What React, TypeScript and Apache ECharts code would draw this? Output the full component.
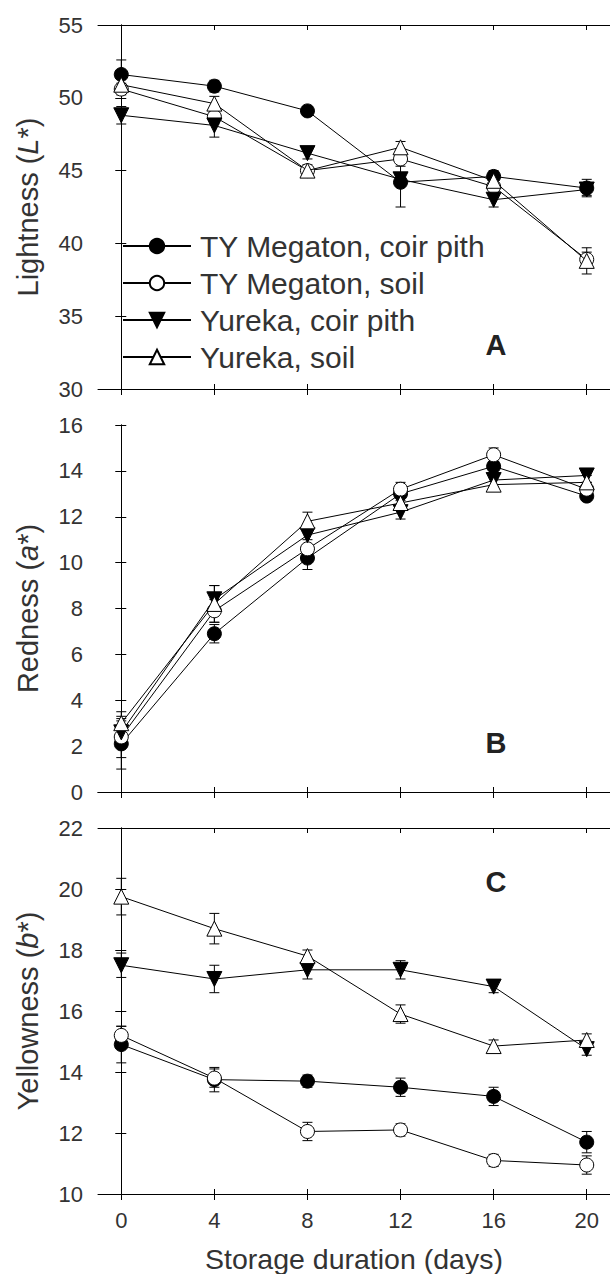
import React, { useEffect, useRef } from "react";
import * as echarts from "echarts";

const days = [0, 4, 8, 12, 16, 20];
const tickDays = [0, 4, 8, 12, 16, 20];
const seriesNames = ["TY Megaton, coir pith", "TY Megaton, soil", "Yureka, coir pith", "Yureka, soil"];

// Panel A: Lightness (L*)
const lightTYCoir = [51.6, 50.8, 49.1, 44.2, 44.6, 43.8];
const lightTYSoil = [50.6, 48.7, 45.0, 45.8, 43.9, 38.9];
const lightYuCoir = [48.8, 48.1, 46.2, 44.4, 43.0, 43.7];
const lightYuSoil = [50.9, 49.6, 45.0, 46.6, 44.3, 38.8];
const lightErrTYCoir = [1.0, 0.4, 0.3, 1.7, 0.4, 0.6];
const lightErrTYSoil = [0.4, 0.5, 0.3, 0.5, 0.4, 0.5];
const lightErrYuCoir = [0.6, 0.8, 0.4, 0.4, 0.5, 0.4];
const lightErrYuSoil = [0.4, 0.5, 0.4, 0.4, 0.4, 0.9];

// Panel B: Redness (a*)
const redTYCoir = [2.1, 6.9, 10.2, 13.0, 14.2, 12.9];
const redTYSoil = [2.4, 7.9, 10.6, 13.2, 14.7, 13.2];
const redYuCoir = [2.6, 8.4, 11.2, 12.2, 13.6, 13.8];
const redYuSoil = [3.0, 8.2, 11.8, 12.6, 13.4, 13.5];
const redErrTYCoir = [1.1, 0.4, 0.5, 0.3, 0.3, 0.2];
const redErrTYSoil = [0.9, 0.5, 0.4, 0.3, 0.3, 0.3];
const redErrYuCoir = [0.5, 0.6, 0.4, 0.3, 0.3, 0.3];
const redErrYuSoil = [0.5, 0.8, 0.4, 0.3, 0.3, 0.3];

// Panel C: Yellowness (b*)
const yelTYCoir = [14.9, 13.75, 13.7, 13.5, 13.2, 11.7];
const yelTYSoil = [15.2, 13.8, 12.05, 12.1, 11.1, 10.95];
const yelYuCoir = [17.5, 17.05, 17.35, 17.35, 16.8, 14.75];
const yelYuSoil = [19.75, 18.7, 17.8, 15.9, 14.85, 15.05];
const yelErrTYCoir = [0.6, 0.4, 0.2, 0.3, 0.3, 0.35];
const yelErrTYSoil = [0.3, 0.3, 0.3, 0.2, 0.2, 0.3];
const yelErrYuCoir = [0.4, 0.45, 0.3, 0.3, 0.2, 0.2];
const yelErrYuSoil = [0.6, 0.5, 0.2, 0.3, 0.2, 0.2];

const yTicksA = [30, 55, 5];
const yTicksB = [0, 16, 2];
const yTicksC = [10, 22, 2];

const FONT = "'Liberation Sans', Arial, sans-serif";
const TXT = "#333";

const markerStyles = [
  { symbol: "circle", size: 14, fill: "#000", rotate: 0 },
  { symbol: "circle", size: 14, fill: "#fff", rotate: 0 },
  { symbol: "triangle", size: 15, fill: "#000", rotate: 180 },
  { symbol: "triangle", size: 15, fill: "#fff", rotate: 0 },
];

export default function App() {
  const ref = useRef<HTMLDivElement>(null);

  useEffect(() => {
    if (!ref.current) return;
    const chart = echarts.init(ref.current, undefined, { renderer: "svg" });

    const panels = [
      {
        top: 25, height: 364, ticks: yTicksA, title: "Lightness (", it: "L", letter: "A", letterY: 345,
        vals: [lightTYCoir, lightTYSoil, lightYuCoir, lightYuSoil],
        errs: [lightErrTYCoir, lightErrTYSoil, lightErrYuCoir, lightErrYuSoil],
      },
      {
        top: 425, height: 367, ticks: yTicksB, title: "Redness (", it: "a", letter: "B", letterY: 743,
        vals: [redTYCoir, redTYSoil, redYuCoir, redYuSoil],
        errs: [redErrTYCoir, redErrTYSoil, redErrYuCoir, redErrYuSoil],
      },
      {
        top: 828, height: 366, ticks: yTicksC, title: "Yellowness (", it: "b", letter: "C", letterY: 882,
        vals: [yelTYCoir, yelTYSoil, yelYuCoir, yelYuSoil],
        errs: [yelErrTYCoir, yelErrTYSoil, yelErrYuCoir, yelErrYuSoil],
      },
    ];

    const grid: any[] = [];
    const xAxis: any[] = [];
    const yAxis: any[] = [];
    const series: any[] = [];
    const graphic: any[] = [];
    const lineBlack = { lineStyle: { color: "#000", width: 1 } };

    panels.forEach((p, pi) => {
      grid.push({ left: 98, right: -1, top: p.top, height: p.height, show: false });
      const isLast = pi === panels.length - 1;
      const xBase = {
        type: "value", gridIndex: pi, min: -1, max: 21,
        splitLine: { show: false },
      };
      xAxis.push({
        ...xBase,
        position: "bottom",
        axisLine: { show: true, ...lineBlack },
        axisTick: { show: true, inside: false, length: 6, customValues: tickDays, ...lineBlack },
        axisLabel: {
          show: isLast, customValues: tickDays, fontSize: 22, color: TXT, fontFamily: FONT, margin: 15,
        },
        name: isLast ? "Storage duration (days)" : "",
        nameLocation: "middle",
        nameGap: 50,
        nameTextStyle: { fontSize: 28.5, color: TXT, fontFamily: FONT },
      });
      xAxis.push({
        ...xBase,
        position: "bottom",
        axisLine: { show: false },
        axisTick: { show: true, inside: true, length: 5, customValues: tickDays, ...lineBlack },
        axisLabel: { show: false },
      });
      xAxis.push({
        ...xBase,
        position: "top",
        axisLine: { show: true, ...lineBlack },
        axisTick: { show: true, inside: true, length: 5, customValues: tickDays, ...lineBlack },
        axisLabel: { show: false },
      });
      const [mn, mx, iv] = p.ticks;
      const yBase = { type: "value", gridIndex: pi, min: mn, max: mx, interval: iv, splitLine: { show: false } };
      yAxis.push({
        ...yBase,
        position: "left",
        axisLine: { show: true, ...lineBlack },
        axisTick: { show: true, inside: false, length: 6, ...lineBlack },
        axisLabel: { fontSize: 22, color: TXT, fontFamily: FONT, margin: 15 },
        name: `${p.title}{i|${p.it}}*)`,
        nameLocation: "middle",
        nameGap: 56,
        nameTextStyle: {
          fontSize: 29, color: TXT, fontFamily: FONT,
          rich: { i: { fontSize: 29, color: TXT, fontFamily: FONT, fontStyle: "italic" } },
        },
      });
      yAxis.push({
        ...yBase,
        position: "left",
        axisLine: { show: false },
        axisTick: { show: true, inside: true, length: 5, ...lineBlack },
        axisLabel: { show: false },
      });
      yAxis.push({
        ...yBase,
        position: "right",
        axisLine: { show: true, ...lineBlack },
        axisTick: { show: true, inside: true, length: 5, ...lineBlack },
        axisLabel: { show: false },
      });

      p.vals.forEach((vals, si) => {
        const errs = p.errs[si];
        series.push({
          type: "custom",
          name: seriesNames[si] + " err",
          xAxisIndex: pi * 3,
          yAxisIndex: pi * 3,
          z: 2,
          silent: true,
          encode: { x: 0, y: [1, 2] },
          data: days.map((d, i) => [d, vals[i] - errs[i], vals[i] + errs[i]]),
          renderItem: (params: any, api: any) => {
            const x = api.value(0);
            const lo = api.coord([x, api.value(1)]);
            const hi = api.coord([x, api.value(2)]);
            const cw = 5;
            const st = { stroke: "#000", lineWidth: 1 };
            return {
              type: "group",
              children: [
                { type: "line", shape: { x1: lo[0], y1: lo[1], x2: hi[0], y2: hi[1] }, style: st },
                { type: "line", shape: { x1: lo[0] - cw, y1: lo[1], x2: lo[0] + cw, y2: lo[1] }, style: st },
                { type: "line", shape: { x1: hi[0] - cw, y1: hi[1], x2: hi[0] + cw, y2: hi[1] }, style: st },
              ],
            };
          },
        });
        const m = markerStyles[si];
        series.push({
          type: "line",
          name: seriesNames[si],
          xAxisIndex: pi * 3,
          yAxisIndex: pi * 3,
          z: 3 + si,
          data: days.map((d, i) => [d, vals[i]]),
          symbol: m.symbol,
          symbolSize: m.size,
          symbolRotate: m.rotate,
          showAllSymbol: true,
          lineStyle: { color: "#000", width: 1 },
          itemStyle: { color: m.fill, borderColor: "#000", borderWidth: 1 },
          emphasis: { disabled: true },
        });
      });

      graphic.push({
        type: "text",
        x: 496,
        y: p.letterY,
        style: {
          text: p.letter,
          fontSize: 29,
          fontWeight: "bold",
          fontFamily: FONT,
          fill: "#222",
          textAlign: "center",
          textVerticalAlign: "middle",
        },
      });
    });

    chart.setOption({
      animation: false,
      backgroundColor: "#fff",
      grid,
      xAxis,
      yAxis,
      series,
      graphic,
      legend: {
        data: seriesNames,
        orient: "vertical",
        left: 122,
        top: 231,
        padding: 0,
        itemWidth: 68,
        itemHeight: 18,
        itemGap: 7,
        selectedMode: false,
        textStyle: { fontSize: 30, color: TXT, fontFamily: FONT, lineHeight: 30, padding: [0, 0, 0, 4] },
      },
    });

    return () => chart.dispose();
  }, []);

  return (
    <div
      ref={ref}
      style={{ position: "absolute", left: 0, top: 0, width: 610, height: 1274, background: "#fff" }}
    />
  );
}
